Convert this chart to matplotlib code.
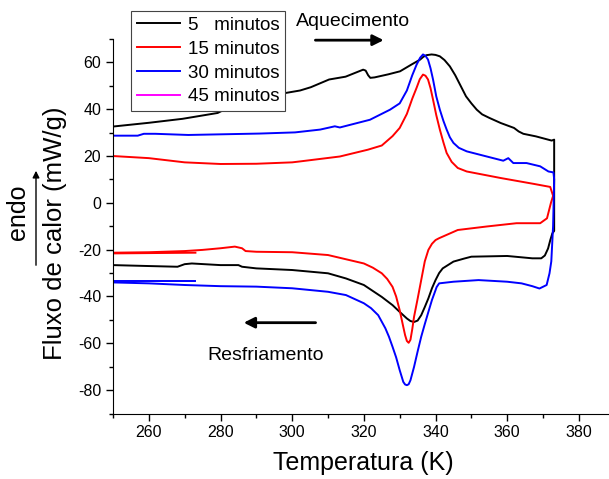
import matplotlib
matplotlib.use("Agg")
import matplotlib.pyplot as plt
from matplotlib.ticker import MultipleLocator

plt.rcParams['font.family'] = ['Liberation Sans', 'DejaVu Sans']
plt.rcParams['axes.unicode_minus'] = False

# 5 minutos - aquecimento (T crescente) e resfriamento (T decrescente)
black_heat_T = [250, 260, 269.4, 279.2, 282, 285, 290, 295, 298.4, 302.2, 305.2, 310.3, 314.9,
                319.8, 320.5, 321.2, 321.8, 323, 326.8, 330.1, 333.3, 335.7, 336.6, 337.5,
                338.9, 340, 341.2, 342.5, 344.0, 345.5, 347, 348.5, 350, 351.5, 353, 355.0,
                358.2, 361.9, 363.2, 364.5, 368.0, 372.4, 373.1]
black_heat = [32.6, 34.2, 35.9, 38.4, 40.5, 42.5, 44.5, 46.0, 47.0, 48.0, 49.4, 52.7, 53.9,
              56.9, 56.5, 54.5, 53.4, 53.6, 54.9, 56.2, 59.1, 61.2, 62.4, 63.1,
              63.4, 63.2, 62.6, 61.0, 58.3, 54.5, 50.0, 45.5, 42.5, 39.8, 37.8, 36.3,
              34.1, 32.0, 30.5, 29.5, 28.4, 26.6, 27.0]
black_cool_T = [373.1, 372.6, 372.0, 371.4, 370.5, 369.5, 367, 360, 350, 348, 345, 342, 341,
                340, 339, 338, 337, 336, 335, 334, 333, 332, 330, 328, 325, 320, 315, 310,
                300, 290, 286, 285, 280, 272, 270, 268, 260, 250]
black_cool = [-12, -13, -16, -19.5, -22.5, -23.7, -23.7, -22.7, -23.0, -23.8, -25.1, -28.0, -30.0,
              -33.0, -36.5, -40.8, -44.5, -48.0, -50.3, -50.9, -50.5, -49.4, -46.6, -43.7,
              -40.2, -35.1, -32.3, -30.1, -28.7, -28.0, -27.3, -26.6, -26.6, -25.9, -26.2,
              -27.3, -27.0, -26.6]

# 15 minutos
red_heat_T = [250, 260, 270, 280, 290, 300, 302.2, 313.3, 321.1, 325, 328, 330, 332, 333.5,
              334.7, 335.6, 336.5, 337.2, 337.9, 338.6, 339.3, 340.2, 341.2, 342.2, 343.1,
              344.5, 346.2, 348.7, 358.2, 367.4, 372.0, 372.8]
red_heat = [20.0, 19.1, 17.3, 16.6, 16.7, 17.3, 17.7, 19.8, 22.7, 24.5, 28.5, 32.0, 38.0, 44.5,
            49.1, 52.8, 54.8, 54.3, 52.7, 49.0, 44.1, 37.5, 31.3, 25.8, 21.3,
            17.5, 14.9, 13.4, 10.6, 8.1, 6.8, 3.0]
red_cool_T = [372.8, 372.2, 371.1, 369.2, 362.6, 354.3, 346.2, 341, 340, 339, 338, 337, 336,
              335, 334, 333.5, 333, 332.5, 332, 331.5, 331, 330, 329, 328, 326.5, 325, 322.5,
              320, 310, 300, 290, 287, 286, 284, 280, 275, 270, 260, 250]
red_cool = [3.0, 0.0, -6.6, -8.7, -8.7, -10.1, -11.6, -15.1, -15.9, -17.5, -20.1, -25.0, -33.0,
            -41.0, -48.7, -54.0, -58.5, -59.8, -59.0, -56.5, -53.0, -45.9, -40.0, -35.9, -32.5,
            -30.1, -27.7, -25.9, -22.3, -21.1, -20.9, -20.6, -19.4, -18.7, -19.4, -20.1,
            -20.6, -21.1, -21.3]
red_seg_T = [250, 273]
red_seg = [-21.6, -21.3]

# 30 minutos
blue_heat_T = [250, 256.9, 258.6, 261.8, 271, 280.9, 290.9, 300.8, 307.8, 311.9, 313.3, 321.7,
               327.3, 330, 332, 333.5, 334.7, 335.7, 336.5, 337.2, 337.9, 338.6, 339.3, 340.2,
               341.2, 342.2, 343.1, 344, 345.0, 346.5, 348.7, 354.3, 358.9, 360.3, 361.7,
               365.4, 369.2, 371.5, 372.9]
blue_heat = [28.7, 28.7, 29.5, 29.5, 29.0, 29.3, 29.6, 30.1, 31.3, 32.7, 32.2, 35.5,
             39.8, 42.5, 48.0, 54.5, 59.0, 62.0, 63.4, 62.8, 61.2, 57.5, 52.7, 45.5,
             39.8, 35.0, 31.3, 28.0, 25.6, 23.5, 22.0, 19.8, 18.0, 19.1, 17.0,
             17.0, 15.6, 13.4, 13.0]
blue_cool_T = [373.1, 372.8, 372.3, 371.8, 371, 369, 367, 364, 360, 352, 345, 341, 340.3, 340,
               339, 338, 337, 336, 335, 334, 333, 332.5, 332, 331.5, 331, 330, 329, 328, 327,
               326, 324, 322, 320, 315, 310, 300, 290, 280, 270, 260, 250]
blue_cool = [10, -10, -25, -30.1, -35.1, -36.6, -35.6, -34.4, -33.7, -33.0, -33.7, -34.4, -36.0,
             -37.3, -41.5, -46.6, -51.8, -57.2, -63.5, -70.1, -75.8, -77.5, -77.9, -77.6,
             -76.5, -71.5, -66.0, -61.5, -57.2, -53.6, -48.0, -45.0, -42.9, -39.4, -38.0,
             -36.5, -35.8, -35.6, -35.1, -34.4, -34.0]
blue_seg_T = [250, 273]
blue_seg = [-33.4, -33.4]

labels = ['5   minutos', '15 minutos', '30 minutos', '45 minutos']
colors = ['black', '#ff0000', '#0000ff', '#ff00ff']

fig = plt.figure(figsize=(6.09, 4.79), dpi=100)
ax = fig.add_axes([113 / 609, 1 - 413.5 / 479, 1 - 113 / 609, (413.5 - 39) / 479])

lw = 1.4
ax.plot(black_heat_T + black_cool_T, black_heat + black_cool, color=colors[0], lw=lw, label=labels[0])
ax.plot(red_heat_T + red_cool_T, red_heat + red_cool, color=colors[1], lw=lw, label=labels[1])
ax.plot(red_seg_T, red_seg, color=colors[1], lw=lw)
ax.plot(blue_heat_T + blue_cool_T, blue_heat + blue_cool, color=colors[2], lw=lw, label=labels[2])
ax.plot(blue_seg_T, blue_seg, color=colors[2], lw=lw)
ax.plot([], [], color=colors[3], lw=lw, label=labels[3])

ax.set_xlim(250, 388.4)
ax.set_ylim(-90, 70)
ax.spines['top'].set_visible(False)
ax.spines['right'].set_visible(False)
ax.xaxis.set_minor_locator(MultipleLocator(10))
ax.yaxis.set_minor_locator(MultipleLocator(10))
ax.tick_params(which='major', direction='out', length=5, width=1, labelsize=11.5)
ax.tick_params(which='minor', direction='out', length=3, width=1)
ax.set_xticks([260, 280, 300, 320, 340, 360, 380])
ax.set_yticks([-80, -60, -40, -20, 0, 20, 40, 60])

# setas e textos
ax.annotate('', xy=(326.3, 69.5), xytext=(305.7, 69.5), annotation_clip=False,
            arrowprops=dict(arrowstyle='-|>', color='black', lw=2, mutation_scale=16))
ax.annotate('', xy=(285.7, -51.2), xytext=(307.3, -51.2),
            arrowprops=dict(arrowstyle='-|>', color='black', lw=2, mutation_scale=16))
fig.text(353 / 609, 1 - 21 / 479, 'Aquecimento', ha='center', va='center', fontsize=14)
fig.text(266 / 609, 1 - 355 / 479, 'Resfriamento', ha='center', va='center', fontsize=14)

fig.text(363 / 609, 1 - 463 / 479, 'Temperatura (K)', ha='center', va='center', fontsize=18)
fig.text(55 / 609, 1 - 233 / 479, 'Fluxo de calor (mW/g)', ha='center', va='center',
         rotation=90, fontsize=18.5)
fig.text(18 / 609, 1 - 212 / 479, 'endo', ha='center', va='center', rotation=90, fontsize=18)
fig.add_artist(matplotlib.patches.FancyArrowPatch((36 / 609, 1 - 268 / 479), (36 / 609, 1 - 168 / 479),
               transform=fig.transFigure, arrowstyle='-|>', mutation_scale=10, lw=1, color='black'))

leg = ax.legend(loc='upper left', bbox_to_anchor=(131 / 609, 1 - 11 / 479),
                bbox_transform=fig.transFigure, fontsize=13.5, frameon=True, fancybox=False,
                handlelength=2.3, handletextpad=0.45, labelspacing=0.36, borderpad=0.3,
                borderaxespad=0)
leg.get_frame().set_edgecolor('#444444')
leg.get_frame().set_linewidth(0.8)
leg.get_frame().set_alpha(1)

fig.savefig('out.png', dpi=100)
